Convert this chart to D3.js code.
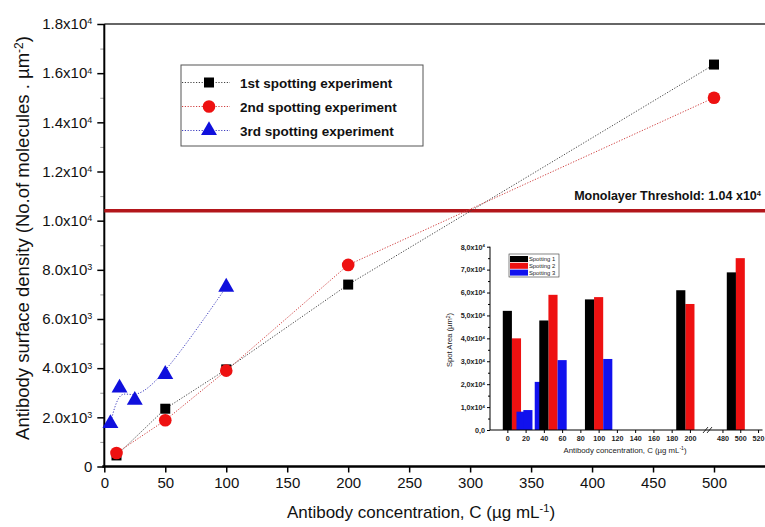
<!DOCTYPE html>
<html>
<head>
<meta charset="utf-8">
<script src="https://cdn.jsdelivr.net/npm/d3@7"></script>
<style>
  body { margin: 0; background: #fff; }
  svg { font-family: "Liberation Sans", Arial, sans-serif; }
</style>
</head>
<body>
<svg id="chart"></svg>
<script>
// Canvas size
const width = 765, height = 527;

// Main chart data (antibody surface density vs concentration)
const conc12 = [10, 50, 100, 200, 500];
const spot1Density = [450, 2350, 3950, 7400, 16350];
const spot2Density = [550, 1880, 3900, 8200, 15000];
const conc3 = [5, 12.5, 25, 50, 100];
const spot3Density = [1750, 3200, 2700, 3750, 7300];
const threshold = 10400;
const seriesNames = ["1st spotting experiment", "2nd spotting experiment", "3rd spotting experiment"];
const xTicks = [0, 50, 100, 150, 200, 250, 300, 350, 400, 450, 500];
const yTicks = [0, 2000, 4000, 6000, 8000, 10000, 12000, 14000, 16000, 18000];

// Inset data (spot area bars)
const area1X = [0, 40, 90, 190, 490];
const area1 = [52000, 47800, 57000, 61000, 68800];
const area2X = [10, 50, 100, 200, 500];
const area2 = [40000, 59000, 58000, 55000, 75000];
const area3X = [15, 22.5, 35, 60, 110];
const area3 = [8000, 8700, 21000, 30500, 31000];
const insetNames = ["Spotting 1", "Spotting 2", "Spotting 3"];
const insetTicksA = [0, 20, 40, 60, 80, 100, 120, 140, 160, 180, 200];
const insetTicksB = [480, 500, 520];
const insetYTicks = [0, 10000, 20000, 30000, 40000, 50000, 60000, 70000, 80000];

const svg = d3.select("#chart").attr("width", width).attr("height", height);

// Scales
const x = d3.scaleLinear().domain([0, 500]).range([104.3, 714]);
const y = d3.scaleLinear().domain([0, 18000]).range([466.5, 24]);

// Scientific label with superscript: "1.8x10^4"
function sciLabel(sel, sep) {
    sel.each(function(d) {
        const t = d3.select(this);
        t.text(null);
        if (d === 0) { t.text(sep === "," ? "0,0" : "0"); return; }
        const e = Math.floor(Math.log10(d));
        const m = (d / Math.pow(10, e)).toFixed(1).replace(".", sep);
        t.append("tspan").text(m + "x10");
        t.append("tspan").attr("dy", "-0.55em").attr("font-size", "0.6em").text(e);
    });
}

// Top frame line
svg.append("line")
    .attr("x1", x(0)).attr("x2", width)
    .attr("y1", y(18000)).attr("y2", y(18000))
    .attr("stroke", "#333").attr("stroke-width", 1.5);

// Y axis with minor ticks
const yMinor = d3.range(1000, 18000, 2000);
svg.append("g")
    .attr("transform", `translate(${x(0)},0)`)
    .call(d3.axisLeft(y).tickValues(yMinor).tickSize(4).tickFormat(""))
    .call(g => g.select(".domain").remove())
    .selectAll("line").attr("stroke", "#999");

const yAxis = svg.append("g")
    .attr("transform", `translate(${x(0)},0)`)
    .call(d3.axisLeft(y).tickValues(yTicks).tickSize(7).tickPadding(5));
yAxis.select(".domain").attr("stroke-width", 2).attr("d", `M0,${y(18000)}V${y(0)}`);
yAxis.selectAll("line").attr("stroke-width", 1.5);
yAxis.selectAll("text")
    .attr("font-size", 15).attr("fill", "#111").attr("font-family", "Liberation Sans, Arial, sans-serif")
    .call(sciLabel, ".");

// X axis
const xAxis = svg.append("g")
    .attr("transform", `translate(0,${y(0)})`)
    .call(d3.axisBottom(x).tickValues(xTicks).tickSize(6).tickPadding(5).tickFormat(d3.format("d")));
xAxis.select(".domain").attr("stroke-width", 2.5).attr("d", `M${x(0) - 2},0H${width}`);
xAxis.selectAll("line").attr("stroke-width", 1.5);
xAxis.selectAll("text")
    .attr("font-size", 15).attr("fill", "#111").attr("font-family", "Liberation Sans, Arial, sans-serif");

// Axis titles
const xTitle = svg.append("text")
    .attr("x", 421).attr("y", 518)
    .attr("text-anchor", "middle").attr("font-size", 17).attr("fill", "#111");
xTitle.append("tspan").text("Antibody concentration, C (µg mL");
xTitle.append("tspan").attr("dy", "-0.5em").attr("font-size", "0.65em").text("-1");
xTitle.append("tspan").attr("dy", "0.32em").text(")");

const yTitle = svg.append("text")
    .attr("transform", "translate(29,238) rotate(-90)")
    .attr("text-anchor", "middle").attr("font-size", 18.5).attr("fill", "#111");
yTitle.append("tspan").text("Antibody surface density (No.of molecules . µm");
yTitle.append("tspan").attr("dy", "-0.5em").attr("font-size", "0.65em").text("-2");
yTitle.append("tspan").attr("dy", "0.32em").text(")");

// Threshold line
svg.append("line")
    .attr("x1", x(0)).attr("x2", width)
    .attr("y1", y(threshold)).attr("y2", y(threshold))
    .attr("stroke", "#b3161b").attr("stroke-width", 3.5);
const thrText = svg.append("text")
    .attr("x", 761).attr("y", 200)
    .attr("text-anchor", "end").attr("font-size", 12.5).attr("font-weight", "bold").attr("fill", "#111");
thrText.append("tspan").text("Monolayer Threshold: 1.04 x10");
thrText.append("tspan").attr("dy", "-0.55em").attr("font-size", "0.6em").text("4");

// ---------- Inset chart ----------
const xA = d3.scaleLinear().domain([-19, 222]).range([490, 710]);
const xB = d3.scaleLinear().domain([466, 525]).range([710, 762.5]);
const xi = v => v < 300 ? xA(v) : xB(v);
const yi = d3.scaleLinear().domain([0, 80000]).range([430, 246.7]);
const barW = 10 * 0.913;

function drawBars(xs, vals, color) {
    svg.append("g").selectAll("rect")
        .data(xs.map((c, i) => ({ c, v: vals[i] })))
        .enter().append("rect")
        .attr("x", d => xi(d.c) - barW / 2)
        .attr("width", barW)
        .attr("y", d => yi(d.v))
        .attr("height", d => yi(0) - yi(d.v))
        .attr("fill", color);
}
drawBars(area2X, area2, "#ee1111");
drawBars(area3X, area3, "#1111ee");
drawBars(area1X, area1, "#000");

// Inset y axis
svg.append("g")
    .attr("transform", `translate(${xA(-19)},0)`)
    .call(d3.axisLeft(yi).tickValues(d3.range(5000, 80000, 10000)).tickSize(2).tickFormat(""))
    .call(g => g.select(".domain").remove());
const yiAxis = svg.append("g")
    .attr("transform", `translate(${xA(-19)},0)`)
    .call(d3.axisLeft(yi).tickValues(insetYTicks).tickSize(3).tickPadding(2));
yiAxis.select(".domain").attr("d", `M0,${yi(80000)}V${yi(0)}`);
yiAxis.selectAll("text")
    .attr("font-size", 7.2).attr("font-weight", "bold").attr("fill", "#222")
    .attr("font-family", "Liberation Sans, Arial, sans-serif")
    .call(sciLabel, ",");

// Inset x axis (broken)
svg.append("line")
    .attr("x1", xA(-19)).attr("x2", 762.5)
    .attr("y1", yi(0)).attr("y2", yi(0))
    .attr("stroke", "#000").attr("stroke-width", 1);
[xA, xB].forEach((sc, k) => {
    const tv = k === 0 ? insetTicksA : insetTicksB;
    const g = svg.append("g").attr("transform", `translate(0,${yi(0)})`)
        .call(d3.axisBottom(sc).tickValues(tv).tickSize(3).tickPadding(3).tickFormat(d3.format("d")));
    g.select(".domain").remove();
    g.selectAll("text")
        .attr("font-size", 7.2).attr("font-weight", "bold").attr("fill", "#222")
        .attr("font-family", "Liberation Sans, Arial, sans-serif");
});
// Break marks
[-3, 1].forEach(o => {
    svg.append("line")
        .attr("x1", 706 + o).attr("x2", 711 + o)
        .attr("y1", yi(0) + 3).attr("y2", yi(0) - 3)
        .attr("stroke", "#000").attr("stroke-width", 0.8);
});

// Inset titles
const xiTitle = svg.append("text")
    .attr("x", 625).attr("y", 453)
    .attr("text-anchor", "middle").attr("font-size", 7.8).attr("fill", "#222");
xiTitle.append("tspan").text("Antibody concentration, C (µg mL");
xiTitle.append("tspan").attr("dy", "-0.5em").attr("font-size", "0.65em").text("-1");
xiTitle.append("tspan").attr("dy", "0.32em").text(")");

const yiTitle = svg.append("text")
    .attr("transform", "translate(452,340) rotate(-90)")
    .attr("text-anchor", "middle").attr("font-size", 7.6).attr("fill", "#222");
yiTitle.append("tspan").text("Spot Area (µm");
yiTitle.append("tspan").attr("dy", "-0.5em").attr("font-size", "0.65em").text("2");
yiTitle.append("tspan").attr("dy", "0.32em").text(")");

// Inset legend
const insetColors = ["#000", "#ee1111", "#1111ee"];
const il = svg.append("g").attr("transform", "translate(509,254)");
il.append("rect").attr("width", 50).attr("height", 23)
    .attr("fill", "#fff").attr("stroke", "#333").attr("stroke-width", 0.6);
insetNames.forEach((n, i) => {
    il.append("rect").attr("x", 1).attr("y", 2 + i * 6.8).attr("width", 18).attr("height", 6)
        .attr("fill", insetColors[i]);
    il.append("text").attr("x", 20).attr("y", 7.3 + i * 6.8)
        .attr("font-size", 5.8).attr("fill", "#222").text(n);
});

// ---------- Main series ----------
const s1 = conc12.map((c, i) => [c, spot1Density[i]]);
const s2 = conc12.map((c, i) => [c, spot2Density[i]]);
const s3 = conc3.map((c, i) => [c, spot3Density[i]]);

const lineLin = d3.line().x(d => x(d[0])).y(d => y(d[1]));
const lineBasis = d3.line().x(d => x(d[0])).y(d => y(d[1])).curve(d3.curveBasis);

const lineColors = ["#444", "#d04040", "#4040c0"];
svg.append("path").attr("d", lineLin(s1)).attr("fill", "none")
    .attr("stroke", lineColors[0]).attr("stroke-width", 1).attr("stroke-dasharray", "1.2,1.6");
svg.append("path").attr("d", lineLin(s2)).attr("fill", "none")
    .attr("stroke", lineColors[1]).attr("stroke-width", 1).attr("stroke-dasharray", "1.2,1.6");
svg.append("path").attr("d", lineBasis(s3)).attr("fill", "none")
    .attr("stroke", lineColors[2]).attr("stroke-width", 1).attr("stroke-dasharray", "1.2,1.6");

const sq = d3.symbol().type(d3.symbolSquare).size(100);
const ci = d3.symbol().type(d3.symbolCircle).size(125);
const tri = d3.symbol().type(d3.symbolTriangle).size(110);

svg.append("g").selectAll("path").data(s1).enter().append("path")
    .attr("d", sq).attr("transform", d => `translate(${x(d[0])},${y(d[1])})`).attr("fill", "#000");
svg.append("g").selectAll("path").data(s2).enter().append("path")
    .attr("d", ci).attr("transform", d => `translate(${x(d[0])},${y(d[1])})`).attr("fill", "#ee1111");
svg.append("g").selectAll("path").data(s3).enter().append("path")
    .attr("d", tri).attr("transform", d => `translate(${x(d[0])},${y(d[1])})`).attr("fill", "#1010dd");

// Main legend
const markers = [sq, ci, tri];
const markerColors = ["#000", "#ee1111", "#1010dd"];
const lg = svg.append("g").attr("transform", "translate(181,65)");
lg.append("rect").attr("width", 242).attr("height", 81)
    .attr("fill", "#fff").attr("stroke", "#555").attr("stroke-width", 1);
seriesNames.forEach((n, i) => {
    const yy = 17.5 + i * 24;
    lg.append("line").attr("x1", 1).attr("x2", 49).attr("y1", yy).attr("y2", yy)
        .attr("stroke", lineColors[i]).attr("stroke-width", 1).attr("stroke-dasharray", "1.2,1.6");
    lg.append("path").attr("d", markers[i]).attr("transform", `translate(28,${yy})`)
        .attr("fill", markerColors[i]);
    lg.append("text").attr("x", 59).attr("y", yy + 5)
        .attr("font-size", 13.5).attr("font-weight", "bold").attr("fill", "#111").text(n);
});
</script>
</body>
</html>
